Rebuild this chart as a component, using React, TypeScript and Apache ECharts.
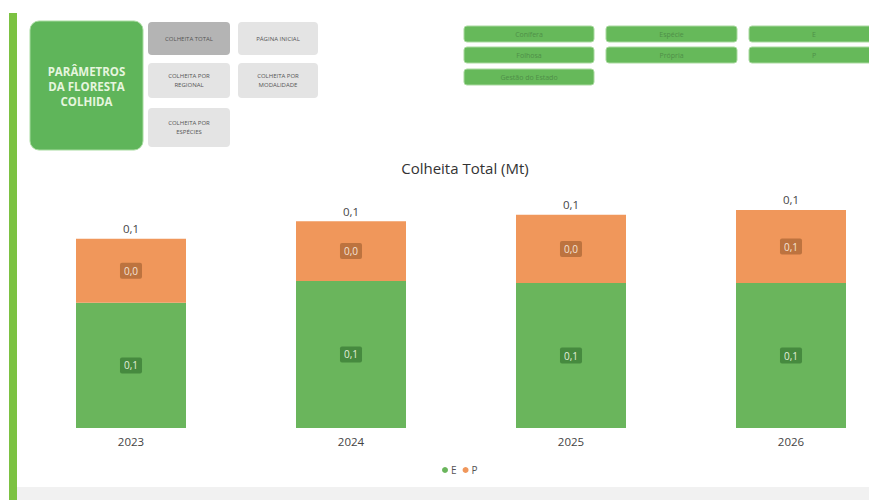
import React, { useEffect, useRef } from "react";
import * as echarts from "echarts";

const years = ["2023", "2024", "2025", "2026"];
const seriesE = [0.086, 0.101, 0.0995, 0.0995];
const seriesP = [0.044, 0.041, 0.047, 0.0502];
const navButtons = [
  { text: "COLHEITA TOTAL", x: 148, y: 22, w: 82, h: 33, active: true },
  { text: "PÁGINA INICIAL", x: 238, y: 22, w: 80, h: 33, active: false },
  { text: "COLHEITA POR\nREGIONAL", x: 148, y: 63, w: 82, h: 35, active: false },
  { text: "COLHEITA POR\nMODALIDADE", x: 238, y: 63, w: 80, h: 35, active: false },
  { text: "COLHEITA POR\nESPÉCIES", x: 148, y: 108, w: 82, h: 39, active: false },
];
const filterButtons = [
  { text: "Conífera", x: 464, y: 26, w: 130 },
  { text: "Espécie", x: 606, y: 26, w: 131 },
  { text: "E", x: 749, y: 26, w: 130 },
  { text: "Folhosa", x: 464, y: 47, w: 130 },
  { text: "Própria", x: 606, y: 47, w: 131 },
  { text: "P", x: 749, y: 47, w: 130 },
  { text: "Gestão do Estado", x: 464, y: 69, w: 130 },
];

const fmt = (v: number) => v.toFixed(1).replace(".", ",");

export default function App() {
  const ref = useRef<HTMLDivElement>(null);
  useEffect(() => {
    if (!ref.current) return;
    const chart = echarts.init(ref.current, null, { renderer: "svg" });
    const totals = years.map((_, i) => seriesE[i] + seriesP[i]);
    const font = "'Open Sans', 'Noto Sans', sans-serif";
    const graphics: any[] = [
      { type: "rect", shape: { x: 9, y: 13, width: 8, height: 487 }, style: { fill: "#7cc242" }, z: 10 },
      { type: "rect", shape: { x: 17, y: 487, width: 852, height: 13 }, style: { fill: "#f1f1f1" }, z: 1 },
      {
        type: "rect",
        shape: { x: 30, y: 21, width: 113, height: 129, r: 9 },
        style: { fill: "#5fb55a", stroke: "#a8dca0", lineWidth: 1 },
        z: 10,
      },
      {
        type: "text",
        x: 86.5,
        y: 86,
        style: {
          text: "PARÂMETROS\nDA FLORESTA\nCOLHIDA",
          fill: "#e6f5df",
          font: "bold 11.5px " + font,
          align: "center",
          verticalAlign: "middle",
          lineHeight: 15,
        },
        z: 11,
      },
    ];
    navButtons.forEach((b) => {
      graphics.push({
        type: "rect",
        shape: { x: b.x, y: b.y, width: b.w, height: b.h, r: 4 },
        style: { fill: b.active ? "#b4b4b4" : "#e4e4e4" },
        z: 10,
      });
      graphics.push({
        type: "text",
        x: b.x + b.w / 2,
        y: b.y + b.h / 2,
        style: {
          text: b.text,
          fill: "#555555",
          font: "6px " + font,
          align: "center",
          verticalAlign: "middle",
          lineHeight: 9,
        },
        z: 11,
      });
    });
    filterButtons.forEach((b) => {
      graphics.push({
        type: "rect",
        shape: { x: b.x, y: b.y, width: b.w, height: 16, r: 3 },
        style: { fill: "#66b95a", stroke: "#a9d99f", lineWidth: 1 },
        z: 10,
      });
      graphics.push({
        type: "text",
        x: b.x + b.w / 2,
        y: b.y + 8,
        style: {
          text: b.text,
          fill: "#4f8f48",
          font: "7px " + font,
          align: "center",
          verticalAlign: "middle",
        },
        z: 11,
      });
    });

    chart.setOption({
      animation: false,
      title: {
        text: "Colheita Total (Mt)",
        left: 460,
        top: 155,
        textAlign: "center",
        textStyle: { fontFamily: font, fontSize: 15, fontWeight: "normal", color: "#333333" },
      },
      legend: {
        data: ["E", "P"],
        left: 437,
        top: 460,
        icon: "circle",
        itemWidth: 6,
        itemHeight: 6,
        itemGap: 6,
        textStyle: { fontFamily: font, fontSize: 10, color: "#555555", padding: [0, 0, 0, -2] },
      },
      grid: { left: 21, right: 0, top: 195, bottom: 72 },
      xAxis: {
        type: "category",
        data: years,
        axisLine: { show: false },
        axisTick: { show: false },
        axisLabel: { fontFamily: font, fontSize: 11.5, color: "#444444", margin: 7 },
      },
      yAxis: { type: "value", min: 0, max: 0.16, show: false, splitLine: { show: false } },
      graphic: graphics,
      series: [
        {
          name: "E",
          type: "bar",
          stack: "a",
          data: seriesE,
          barWidth: "50%",
          itemStyle: { color: "#6ab55c" },
          label: {
            show: true,
            position: "inside",
            formatter: (p: any) => fmt(p.value),
            fontFamily: font,
            fontSize: 10,
            color: "#e3efdc",
            backgroundColor: "#468a3f",
            padding: [3, 4],
            borderRadius: 2,
          },
        },
        {
          name: "P",
          type: "bar",
          stack: "a",
          data: seriesP,
          barWidth: "50%",
          itemStyle: { color: "#f0975b" },
          label: {
            show: true,
            position: "inside",
            formatter: (p: any) => fmt(p.value),
            fontFamily: font,
            fontSize: 10,
            color: "#f6e4d6",
            backgroundColor: "#bd733f",
            padding: [3, 4],
            borderRadius: 2,
          },
        },
        {
          name: "Total",
          type: "bar",
          stack: "a",
          data: years.map(() => 0),
          barWidth: "50%",
          itemStyle: { color: "transparent" },
          label: {
            show: true,
            position: "top",
            distance: 4,
            formatter: (p: any) => fmt(totals[p.dataIndex]),
            fontFamily: font,
            fontSize: 11.5,
            color: "#444444",
          },
        },
      ],
    });
    return () => chart.dispose();
  }, []);
  return (
    <div style={{ position: "fixed", left: 0, top: 0, width: 869, height: 500, overflow: "hidden", background: "#ffffff" }}>
      <div ref={ref} style={{ width: 901, height: 500 }} />
    </div>
  );
}
